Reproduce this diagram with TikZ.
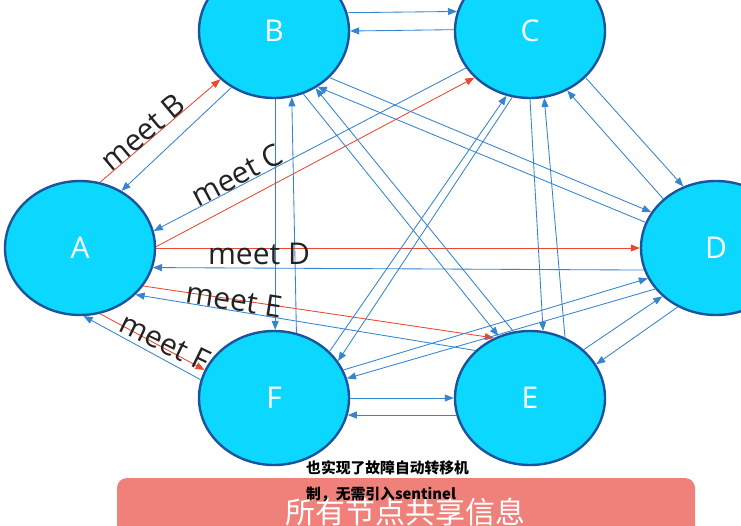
\documentclass[tikz,border=0pt]{standalone}
\usepackage{fontspec}
\setmainfont{Open Sans}
\newfontfamily\cjk{Noto Sans CJK SC}
\usetikzlibrary{arrows.meta,shapes.geometric}
\definecolor{nodefill}{RGB}{12,216,255}
\definecolor{nodeline}{RGB}{26,84,156}
\definecolor{edgeblue}{RGB}{52,132,208}
\definecolor{edgered}{RGB}{234,72,48}
\definecolor{banner}{RGB}{240,128,122}
\definecolor{labelink}{RGB}{34,34,34}
\begin{document}
\begin{tikzpicture}[x=1pt,y=-1pt,
  peer/.style={ellipse, draw=nodeline, line width=2.4pt, fill=nodefill,
    minimum width=150pt, minimum height=134pt, inner sep=0pt, text=white,
    font=\fontsize{30}{30}\selectfont},
  msg/.style={draw=edgeblue, line width=0.85pt, -{Triangle[length=9pt,width=7pt]}},
  meet/.style={draw=edgered, line width=0.85pt, -{Triangle[length=9pt,width=7pt]}},
  meetlabel/.style={text=labelink, font=\fontsize{30}{30}\selectfont, inner sep=0pt},
  caption/.style={anchor=west, font=\cjk\bfseries\fontsize{14.8}{14.8}\selectfont, inner sep=0pt}]
\clip (0,0) rectangle (741,525);
\fill[white] (0,0) rectangle (741,525);

% nodes
\node[peer] (A) at (80,248) {A};
\node[peer] (B) at (274,31) {B};
\node[peer] (C) at (530,31) {C};
\node[peer] (D) at (716,248) {D};
\node[peer] (E) at (530,398) {E};
\node[peer] (F) at (274,398) {F};

% A's meet messages
\draw[meet] (A.73.6) -- (B.222);
\draw[meet] (A.1) -- (C.220.7);
\draw[meet] (A.0) -- (D.180);
\draw[meet] (A.-31.1) -- (E.121.7);
\draw[meet] (A.-73.8) -- (F.158.8);

% replies to A
\draw[msg] (B.233.4) -- (A.54.5);
\draw[msg] (C.210.2) -- (A.13.9);
\draw[msg] (D.197.3) -- (A.-15.8);
\draw[msg] (E.139.9) -- (A.-40.7);
\draw[msg] (F.166.7) -- (A.-87.5);

% B
\draw[msg] (B.14.7) -- (C.165.4);
\draw[msg] (C.179.3) -- (B.0.7);
\draw[msg] (B.-40) -- (D.151.8);
\draw[msg] (D.160.4) -- (B.-52);
\draw[msg] (B.-65.2) -- (E.117.9);
\draw[msg] (E.104) -- (B.-54);
\draw[msg] (B.-89) -- (F.89);
\draw[msg] (F.71.3) -- (B.-75.6);

% C
\draw[msg] (C.-40.7) -- (D.118.7);
\draw[msg] (D.137.2) -- (C.-58.1);
\draw[msg] (C.-90) -- (E.79.6);
\draw[msg] (E.60.2) -- (C.-78.1);
\draw[msg] (C.255.8) -- (F.30.7);
\draw[msg] (F.40.6) -- (C.250.2);

% D
\draw[msg] (D.237.8) -- (E.27.2);
\draw[msg] (E.42.3) -- (D.222.8);
\draw[msg] (D.214.5) -- (F.15.1);
\draw[msg] (F.22.1) -- (D.204.9);

% E / F
\draw[msg] (F.0) -- (E.180);
\draw[msg] (E.193.9) -- (F.-13);

% labels
\node[meetlabel, rotate=40] (lB) at (143,132) {meet B};
\node[meetlabel, rotate=28] (lC) at (237,175) {meet C};
\node[meetlabel] (lD) at (259,254) {meet D};
\node[meetlabel, rotate=-9] (lE) at (234,300) {meet E};
\node[meetlabel, rotate=-26] (lF) at (165,342) {meet F};

% banner
\fill[banner, rounded corners=10pt] (117,478) rectangle (695,560);
\node[text=white, font=\cjk\fontsize{30}{30}\selectfont, inner sep=0pt] (banner) at (405,512) {所有节点共享信息};
\node[caption] (cap1) at (306,468) {也实现了故障自动转移机};
\node[caption] (cap2) at (306,494) {制，无需引入sentinel};
\end{tikzpicture}
\end{document}
